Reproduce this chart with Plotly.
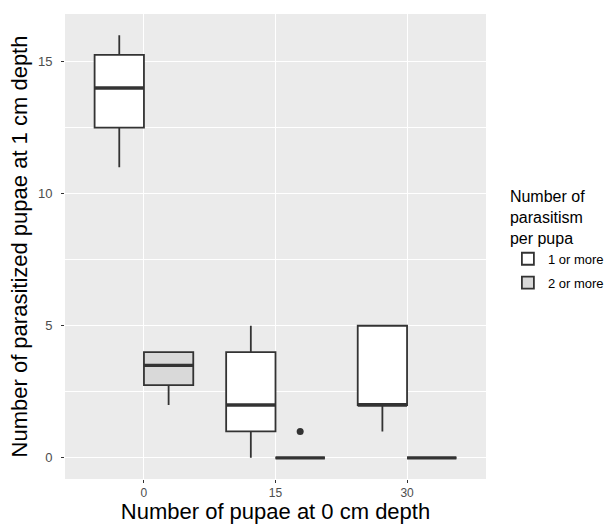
import plotly.graph_objects as go

# ---- data ----
categories = ["0", "15", "30"]          # Number of pupae at 0 cm depth
groups = ["1 or more", "2 or more"]     # Number of parasitism per pupa

# five-number summaries per group, one entry per category
q1_one = [12.5, 1.0, 2.0]
med_one = [14.0, 2.0, 2.0]
q3_one = [15.25, 4.0, 5.0]
lo_one = [11.0, 0.0, 1.0]
hi_one = [16.0, 5.0, 5.0]

q1_two = [2.75, 0.0, 0.0]
med_two = [3.5, 0.0, 0.0]
q3_two = [4.0, 0.0, 0.0]
lo_two = [2.0, 0.0, 0.0]
hi_two = [4.0, 0.0, 0.0]

# outliers: (category index, group index, value)
outlier_cat = [1]
outlier_grp = [1]
outlier_val = [1.0]

y_ticks = [0, 5, 10, 15]

# ---- styling ----
LINE = "#333333"
FILLS = ["#FFFFFF", "#D9D9D9"]
DODGE = 0.75
BOXW = DODGE / 2
FONT = "Liberation Sans, Arial, Helvetica, sans-serif"

stats = [
    (q1_one, med_one, q3_one, lo_one, hi_one),
    (q1_two, med_two, q3_two, lo_two, hi_two),
]

def offset(g):
    return -DODGE / 2 + BOXW / 2 + g * BOXW

fig = go.Figure()
idx = list(range(len(categories)))
for g, (q1, med, q3, lo, hi) in enumerate(stats):
    xs = [i + offset(g) for i in idx]
    fig.add_trace(go.Box(
        x=xs, q1=q1, median=med, q3=q3, lowerfence=lo, upperfence=hi,
        width=BOXW, name=groups[g], fillcolor=FILLS[g],
        line=dict(color=LINE, width=1.8), whiskerwidth=0,
        boxpoints=False, showlegend=True, legendgroup=groups[g],
    ))

# thicker median lines (ggplot style)
for g, (q1, med, q3, lo, hi) in enumerate(stats):
    mx, my = [], []
    for i in idx:
        c = i + offset(g)
        mx += [c - BOXW / 2, c + BOXW / 2, None]
        my += [med[i], med[i], None]
    fig.add_trace(go.Scatter(x=mx, y=my, mode="lines",
                             line=dict(color=LINE, width=3.4),
                             showlegend=False, hoverinfo="skip"))

fig.add_trace(go.Scatter(
    x=[c + offset(g) for c, g in zip(outlier_cat, outlier_grp)],
    y=outlier_val, mode="markers",
    marker=dict(color=LINE, size=7), showlegend=False, hoverinfo="skip"))

fig.update_layout(
    width=608, height=524,
    margin=dict(l=65, r=122, t=14, b=45, autoexpand=False),
    paper_bgcolor="white", plot_bgcolor="#EBEBEB",
    font=dict(family=FONT, color="black"),
    boxmode="overlay",
    legend=dict(
        title=dict(text="Number of<br>parasitism<br>per pupa",
                   font=dict(size=16, color="black", family=FONT)),
        font=dict(size=13, color="black", family=FONT),
        x=1.052, xanchor="left", y=0.64, yanchor="top",
        bgcolor="rgba(0,0,0,0)", tracegroupgap=4,
    ),
    xaxis=dict(
        range=[-0.6, len(categories) - 1 + 0.6],
        tickvals=idx, ticktext=categories,
        showgrid=True, gridcolor="white", gridwidth=1.1,
        zeroline=False, showline=False,
        ticks="outside", ticklen=3, tickwidth=1, tickcolor=LINE,
        tickfont=dict(size=12, color="#4D4D4D", family=FONT),
        title=dict(text="Number of pupae at 0 cm depth",
                   font=dict(size=22, color="black", family=FONT), standoff=5),
    ),
    yaxis=dict(
        range=[-0.8, 16.8],
        tickvals=y_ticks,
        showgrid=True, gridcolor="white", gridwidth=1.1,
        minor=dict(tickvals=[2.5, 7.5, 12.5], showgrid=True,
                   gridcolor="white", gridwidth=0.55, ticks=""),
        zeroline=False, showline=False,
        ticks="outside", ticklen=3, tickwidth=1, tickcolor=LINE,
        ticklabelstandoff=6,
        tickfont=dict(size=13, color="#4D4D4D", family=FONT),
        title=dict(text="Number of parasitized pupae at 1 cm depth",
                   font=dict(size=22, color="black", family=FONT), standoff=4),
    ),
)

fig.write_html("out.html")
